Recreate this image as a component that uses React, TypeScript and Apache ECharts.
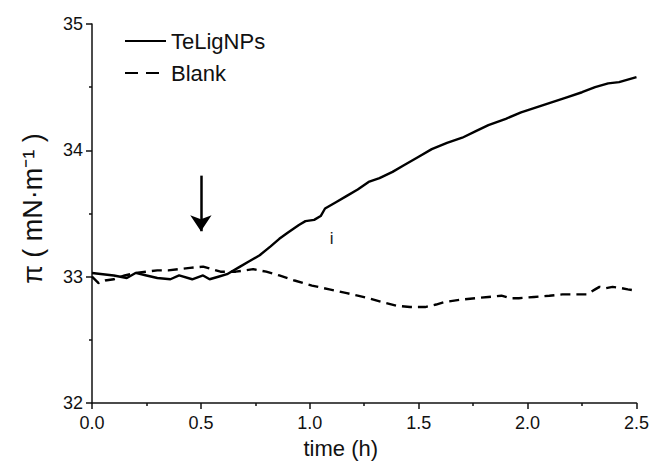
import React, { useEffect, useRef } from "react";
import * as echarts from "echarts";

const FONT = "'Liberation Sans', Arial, Helvetica, sans-serif";

const teLigTime = [0.0, 0.05, 0.1, 0.16, 0.2, 0.25, 0.3, 0.36, 0.4, 0.46, 0.51, 0.54, 0.58, 0.62, 0.68, 0.72, 0.77, 0.82, 0.86, 0.9, 0.95, 0.98, 1.02, 1.05, 1.07, 1.12, 1.17, 1.22, 1.27, 1.32, 1.38, 1.43, 1.5, 1.56, 1.63, 1.7, 1.76, 1.82, 1.9, 1.97, 2.04, 2.11, 2.18, 2.25, 2.31, 2.37, 2.42, 2.46, 2.5];
const teLigValues = [33.03, 33.02, 33.01, 32.99, 33.03, 33.01, 32.99, 32.98, 33.01, 32.98, 33.01, 32.98, 33.0, 33.02, 33.08, 33.12, 33.17, 33.24, 33.3, 33.35, 33.41, 33.44, 33.45, 33.48, 33.54, 33.59, 33.64, 33.69, 33.75, 33.78, 33.83, 33.88, 33.95, 34.01, 34.06, 34.1, 34.15, 34.2, 34.25, 34.3, 34.34, 34.38, 34.42, 34.46, 34.5, 34.53, 34.54, 34.56, 34.58];

const blankTime = [0.0, 0.03, 0.06, 0.1, 0.15, 0.2, 0.25, 0.3, 0.35, 0.4, 0.45, 0.51, 0.55, 0.59, 0.66, 0.7, 0.74, 0.8, 0.86, 0.93, 1.01, 1.09, 1.17, 1.22, 1.27, 1.33, 1.4, 1.46, 1.53, 1.58, 1.62, 1.7, 1.76, 1.82, 1.88, 1.92, 1.96, 2.03, 2.1, 2.16, 2.22, 2.27, 2.31, 2.33, 2.36, 2.39, 2.43, 2.46, 2.5];
const blankValues = [33.0, 32.95, 32.97, 32.98, 33.01, 33.03, 33.04, 33.05, 33.05, 33.06, 33.07, 33.08, 33.06, 33.04, 33.04, 33.05, 33.06, 33.04, 33.01, 32.97, 32.93, 32.9, 32.87, 32.85, 32.83, 32.8, 32.77, 32.76, 32.76, 32.78, 32.8, 32.82, 32.83, 32.84, 32.85, 32.83, 32.83, 32.84, 32.85, 32.86, 32.86, 32.86, 32.9, 32.92, 32.91, 32.92, 32.91, 32.9, 32.89];

const seriesNames = ["TeLigNPs", "Blank"];
const xTitle = "time (h)";
const yTitle = "π ( mN·m⁻¹ )";
const arrowTime = 0.5;
const arrowFrom = 33.8;
const arrowTo = 33.36;
const noteTime = 1.1;
const noteValue = 33.3;
const noteText = "i";

export default function App() {
  const ref = useRef<HTMLDivElement>(null);
  useEffect(() => {
    if (!ref.current) return;
    const chart = echarts.init(ref.current, undefined, { renderer: "svg" });
    const axisColor = "#111";
    chart.setOption({
      animation: false,
      backgroundColor: "#fff",
      textStyle: { fontFamily: FONT },
      grid: { left: 92, right: 15, top: 24, bottom: 58, containLabel: false },
      legend: {
        orient: "vertical",
        left: 124,
        top: 30,
        padding: 0,
        itemGap: 10,
        itemWidth: 41,
        itemHeight: 14,
        itemStyle: { opacity: 0 },
        textStyle: { fontSize: 22, color: "#111", fontFamily: FONT, lineHeight: 22 },
        data: [
          { name: seriesNames[0] },
          { name: seriesNames[1], lineStyle: { type: [13, 8] } },
        ],
      },
      xAxis: {
        type: "value",
        min: 0,
        max: 2.5,
        interval: 0.5,
        name: xTitle,
        nameLocation: "middle",
        nameGap: 31,
        nameTextStyle: { fontSize: 22, color: "#111", fontFamily: FONT, padding: [0, 47, 0, 0] },
        axisLine: { show: true, onZero: false, lineStyle: { color: axisColor, width: 1.5 } },
        axisTick: { show: true, length: 6, lineStyle: { color: axisColor, width: 1.5 } },
        minorTick: { show: true, splitNumber: 2, length: 3, lineStyle: { color: axisColor, width: 1.5 } },
        axisLabel: { fontSize: 18, color: "#111", margin: 11, formatter: (v: number) => v.toFixed(1) },
        splitLine: { show: false },
      },
      yAxis: {
        type: "value",
        min: 32,
        max: 35,
        interval: 1,
        name: yTitle,
        nameLocation: "middle",
        nameGap: 46,
        nameRotate: 90,
        nameTextStyle: { fontSize: 27, color: "#111", fontFamily: FONT, padding: [0, 0, 0, 10] },
        axisLine: { show: true, onZero: false, lineStyle: { color: axisColor, width: 1.5 } },
        axisTick: { show: true, length: 6, lineStyle: { color: axisColor, width: 1.5 } },
        minorTick: { show: true, splitNumber: 2, length: 3, lineStyle: { color: axisColor, width: 1.5 } },
        axisLabel: { fontSize: 18, color: "#111", margin: 9 },
        splitLine: { show: false },
      },
      series: [
        {
          name: seriesNames[0],
          type: "line",
          symbol: "none",
          showSymbol: false,
          color: "#000",
          lineStyle: { color: "#000", width: 2.4 },
          data: teLigTime.map((t, i) => [t, teLigValues[i]]),
          markLine: {
            silent: true,
            symbol: ["none", "arrow"],
            symbolSize: [16, 16],
            label: { show: false },
            lineStyle: { color: "#000", width: 2.5, type: "solid" },
            data: [[{ coord: [arrowTime, arrowFrom] }, { coord: [arrowTime, arrowTo] }]],
          },
          markPoint: {
            silent: true,
            symbol: "circle",
            symbolSize: 1,
            itemStyle: { color: "rgba(0,0,0,0)" },
            label: { show: true, formatter: noteText, fontSize: 17, color: "#222", position: "inside", fontFamily: FONT },
            data: [{ coord: [noteTime, noteValue] }],
          },
        },
        {
          name: seriesNames[1],
          type: "line",
          symbol: "none",
          showSymbol: false,
          color: "#000",
          lineStyle: { color: "#000", width: 2.4, type: [10, 6] },
          data: blankTime.map((t, i) => [t, blankValues[i]]),
        },
      ],
    });
    return () => chart.dispose();
  }, []);
  return <div ref={ref} style={{ width: 652, height: 464, position: "absolute", left: 0, top: 0 }} />;
}
